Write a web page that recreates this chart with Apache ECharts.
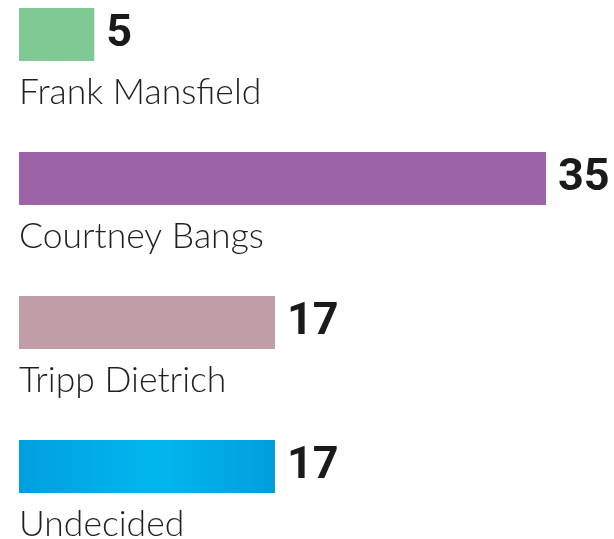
<!DOCTYPE html>
<html>
<head>
<meta charset="utf-8">
<script src="https://cdn.jsdelivr.net/npm/echarts@6/dist/echarts.min.js"></script>
<style>
    html, body { margin: 0; padding: 0; background: #fff; }
    #main { width: 614px; height: 539px; }
</style>
</head>
<body>
<div id="main"></div>
<script>
// data
let names = ['Frank Mansfield', 'Courtney Bangs', 'Tripp Dietrich', 'Undecided'];
let votes = [5, 35, 17, 17];
let colors = [
    '#80c994',
    '#9c63a8',
    '#bf9ea7',
    new echarts.graphic.LinearGradient(0, 0, 1, 0, [
        { offset: 0, color: '#019fdf' },
        { offset: 0.55, color: '#02b7ee' },
        { offset: 1, color: '#019ddc' }
    ])
];

var myChart = echarts.init(document.getElementById('main'));

let option = {
    animation: false,
    grid: {
        left: 19,
        right: 68,
        top: -37.5,
        bottom: 0.5,
        outerBoundsMode: 'none',
        containLabel: false
    },
    xAxis: {
        type: 'value',
        min: 0,
        max: 35,
        show: false
    },
    yAxis: {
        type: 'category',
        inverse: true,
        data: names,
        axisLine: { show: false },
        axisTick: { show: false },
        splitLine: { show: false },
        axisLabel: {
            inside: true,
            margin: 0,
            align: 'left',
            verticalAlign: 'top',
            padding: [40, 0, 0, 0],
            color: '#231f20',
            fontFamily: 'Lato',
            fontWeight: 300,
            fontSize: 35.5
        }
    },
    series: [{
        name: 'votes',
        type: 'bar',
        barWidth: 53,
        data: votes.map(function (v, i) {
            return { value: v, itemStyle: { color: colors[i] } };
        }),
        label: {
            show: true,
            position: 'right',
            distance: 12,
            color: '#1a1a1a',
            fontFamily: 'Roboto',
            fontWeight: 'bold',
            fontSize: 45
        }
    }]
};

// 使用刚指定的配置项和数据显示图表。
myChart.setOption(option);
</script>
</body>
</html>
